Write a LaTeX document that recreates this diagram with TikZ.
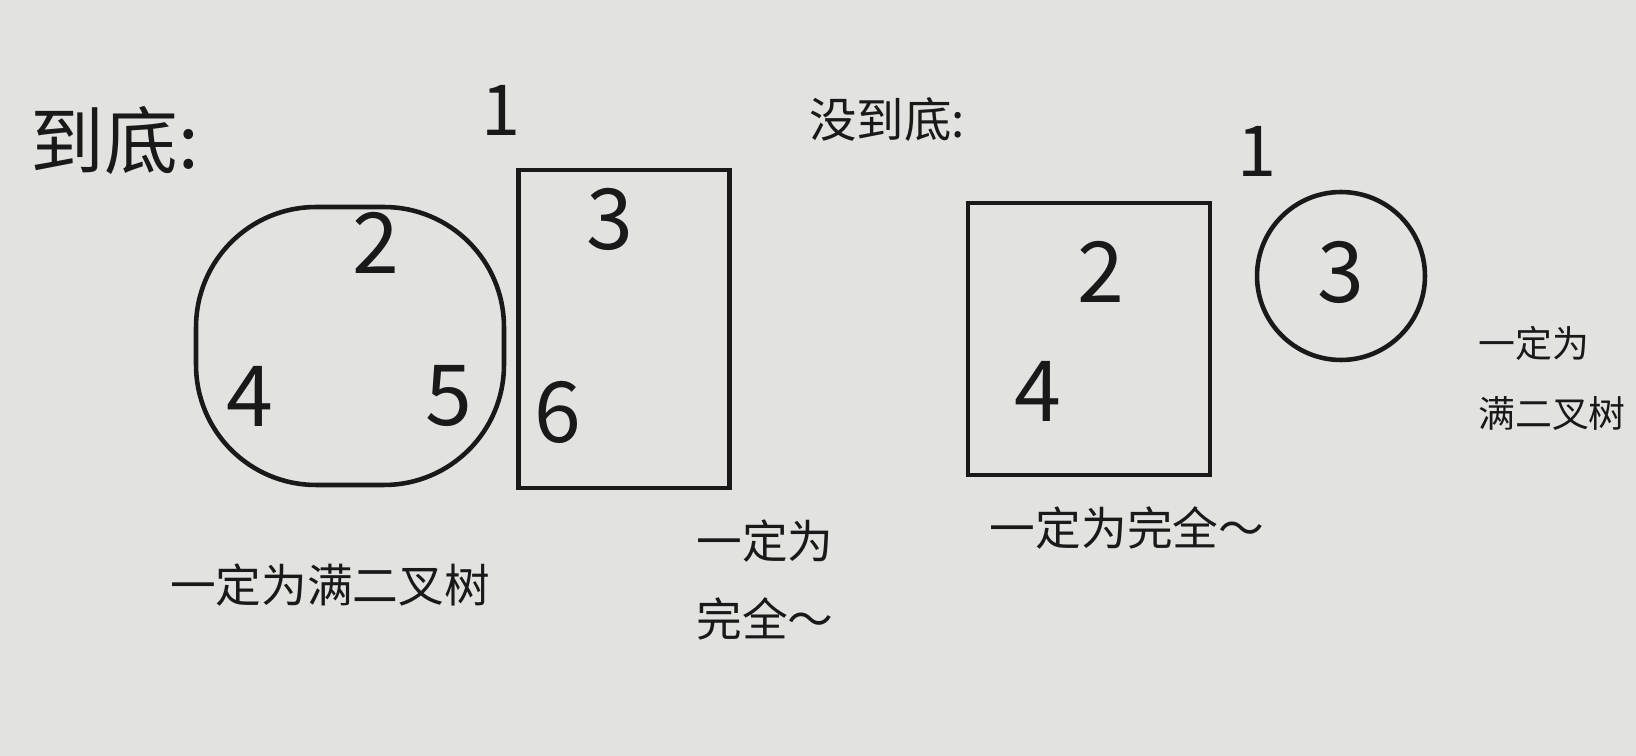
\documentclass[tikz,border=0pt]{standalone}
\usepackage{fontspec}
\setmainfont{Noto Sans CJK SC}
\definecolor{paper}{RGB}{226,226,224}
\definecolor{ink}{RGB}{25,25,25}
\tikzset{
  pen/.style={draw=ink, line width=2.6pt},
  big/.style={text=ink, font=\fontsize{42pt}{48pt}\selectfont},
  mid/.style={text=ink, font=\fontsize{27pt}{34pt}\selectfont},
  lab/.style={text=ink, font=\fontsize{26pt}{44pt}\selectfont, align=left},
  small/.style={text=ink, font=\fontsize{21pt}{40pt}\selectfont, align=left},
  digit/.style={text=ink, font=\fontsize{48pt}{52pt}\selectfont},
  tick/.style={text=ink, font=\fontsize{40pt}{44pt}\selectfont},
}
\begin{document}
\begin{tikzpicture}[x=0.02cm,y=-0.02cm]
\path[fill=paper] (0,0) rectangle (1636,756);
\useasboundingbox (0,0) rectangle (1636,756);
% left group
\node[big] (t1) at (115,141) {到底:};
\node[tick] (one1) at (501,110) {1};
\node[pen, minimum width=6.16cm, minimum height=5.56cm, rounded corners=2.4cm] (blob) at (350,346) {};
\node[digit] (n2a) at (376,243) {2};
\node[digit] (n4a) at (250,396) {4};
\node[digit] (n5a) at (449,396) {5};
\node[pen, minimum width=4.22cm, minimum height=6.36cm] (rect) at (624,329) {};
\node[digit] (n3a) at (610,219) {3};
\node[digit] (n6a) at (558,412) {6};
\node[lab] (l1) at (330,585) {一定为满二叉树};
\node[lab] (l2) at (765,580) {一定为\\完全～};
% right group
\node[mid] (t2) at (887,120) {没到底:};
\node[tick] (one2) at (1257,151) {1};
\node[pen, minimum width=4.84cm, minimum height=5.44cm] (sq) at (1089,339) {};
\node[digit] (n2b) at (1101,272) {2};
\node[digit] (n4b) at (1038,391) {4};
\node[pen, circle, minimum size=3.36cm] (circ) at (1341,276) {};
\node[digit] (n3b) at (1341,272) {3};
\node[lab] (l3) at (1127,528) {一定为完全～};
\node[small] (l4) at (1552,378) {一定为\\满二叉树};
\end{tikzpicture}
\end{document}
